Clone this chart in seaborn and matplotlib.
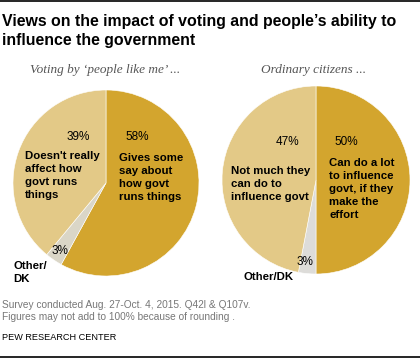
import matplotlib
matplotlib.use("Agg")
import matplotlib.pyplot as plt
import seaborn as sns

# Data
left_labels = ["Gives some\nsay about\nhow govt\nruns things", "Other/\nDK", "Doesn't really\naffect how\ngovt runs\nthings"]
left_values = [58, 3, 39]
right_labels = ["Can do a lot\nto influence\ngovt, if they\nmake the\neffort", "Other/DK", "Not much they\ncan do to\ninfluence govt"]
right_values = [50, 3, 47]

sns.set_theme(style="white")
plt.rcParams['font.family'] = ['Liberation Sans Narrow', 'Liberation Sans', 'DejaVu Sans']

gold, light = "#D3A52E", "#E3C987"
left_pal = [gold, "#DAD6C7", light]
right_pal = [gold, "#DDDCD9", light]

W, H = 420, 359
fig = plt.figure(figsize=(W / 100, H / 100), dpi=100)


def px(x, y):
    return x / W, 1 - y / H


def add_pie(cx, cy, r, values, colors):
    ax = fig.add_axes([(cx - r) / W, 1 - (cy + r) / H, 2 * r / W, 2 * r / H])
    ax.pie(values, colors=colors, startangle=90, counterclock=False,
           wedgeprops=dict(linewidth=0.4, edgecolor="white"))
    ax.set_xlim(-1, 1)
    ax.set_ylim(-1, 1)
    ax.set_aspect("equal")
    ax.axis("off")
    return ax


add_pie(106, 183, 93, left_values, left_pal)
add_pie(316, 180, 94, right_values, right_pal)

# frame lines
fig.add_artist(plt.Line2D([0, 1], [1 - 1 / H, 1 - 1 / H], color="black", lw=1.2))
fig.add_artist(plt.Line2D([0, 1], [1 - 357 / H, 1 - 357 / H], color="black", lw=1.2))

# title
fig.text(*px(2, 14), "Views on the impact of voting and people\u2019s ability to\ninfluence the government",
         fontsize=11.4, fontweight="bold", va="top", ha="left", linespacing=1.32,
         color="black", family=['Liberation Sans', 'DejaVu Sans'])
fig.text(*px(105, 70), "Voting by \u2018people like me\u2019 ...", fontsize=9.5, style="italic",
         color="#555555", ha="center", va="center", family=['Liberation Serif', 'DejaVu Serif'])
fig.text(*px(314, 70), "Ordinary citizens ...", fontsize=9.5, style="italic",
         color="#555555", ha="center", va="center", family=['Liberation Serif', 'DejaVu Serif'])

lab = dict(fontsize=8.2, fontweight="bold", color="black", ha="left", va="top", linespacing=1.36)
pct = dict(fontsize=8.5, color="black", ha="center", va="center")

# left pie labels
fig.text(*px(78, 137), f"{left_values[2]}%", **pct)
fig.text(*px(137, 137), f"{left_values[0]}%", **pct)
fig.text(*px(25, 151), left_labels[2], **lab)
fig.text(*px(119, 153), left_labels[0], **lab)
fig.text(*px(60, 251), f"{left_values[1]}%", **pct)
fig.text(*px(13, 261), left_labels[1], **lab)

# right pie labels
fig.text(*px(288, 142), f"{right_values[2]}%", **pct)
fig.text(*px(346, 142), f"{right_values[0]}%", **pct)
fig.text(*px(231, 166), right_labels[2], **lab)
fig.text(*px(329, 158), right_labels[0], **lab)
fig.text(*px(305, 262), f"{right_values[1]}%", **pct)
fig.text(*px(243, 277), right_labels[1], fontsize=8.2, fontweight="bold", color="black",
         ha="left", va="center")

# footer
fig.text(*px(2, 305), "Survey conducted Aug. 27-Oct. 4, 2015. Q42l & Q107v.", fontsize=7.3,
         color="#777777", ha="left", va="center")
fig.text(*px(2, 317), "Figures may not add to 100% because of rounding .", fontsize=7.3,
         color="#777777", ha="left", va="center")
fig.text(*px(2, 337), "PEW RESEARCH CENTER", fontsize=6.6, color="black", ha="left", va="center")

fig.savefig("out.png", dpi=100)
